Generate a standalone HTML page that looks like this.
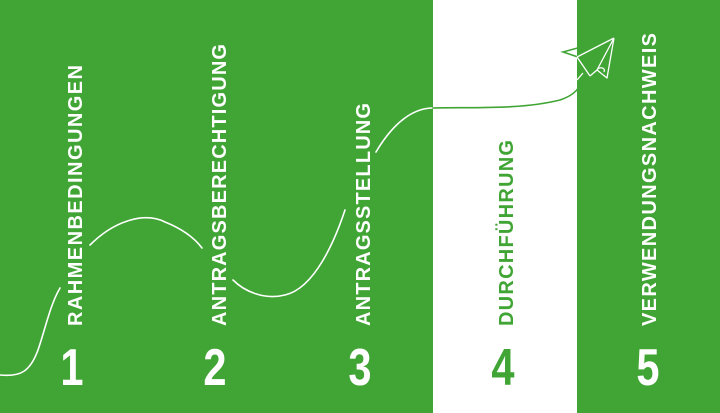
<!DOCTYPE html>
<html><head><meta charset="utf-8"><style>
html,body{margin:0;padding:0;background:#40a535;}
svg{display:block}
</style></head><body>
<svg width="720" height="413" viewBox="0 0 720 413" xmlns="http://www.w3.org/2000/svg">
<rect width="720" height="413" fill="#40a535"/>
<rect x="433" y="0" width="144" height="413" fill="#fff"/>
<g font-family="Liberation Sans, sans-serif" font-weight="bold" font-size="20" fill="#fff">
<text transform="translate(82,326) rotate(-90)" textLength="261" lengthAdjust="spacing">RAHMENBEDINGUNGEN</text>
<text transform="translate(226,326) rotate(-90)" textLength="282" lengthAdjust="spacing">ANTRAGSBERECHTIGUNG</text>
<text transform="translate(370,326) rotate(-90)" textLength="223" lengthAdjust="spacing">ANTRAGSSTELLUNG</text>
<text transform="translate(513,326) rotate(-90)" textLength="186" lengthAdjust="spacing" fill="#40a535">DURCHFÜHRUNG</text>
<text transform="translate(656,326) rotate(-90)" textLength="293" lengthAdjust="spacing">VERWENDUNGSNACHWEIS</text>
</g>
<g font-family="Liberation Sans, sans-serif" font-weight="bold" font-size="52" fill="#fff" text-anchor="middle">
<text transform="translate(72,385) scale(0.8,1)">1</text>
<text transform="translate(215,385) scale(0.8,1)">2</text>
<text transform="translate(360,385) scale(0.8,1)">3</text>
<text transform="translate(503,385) scale(0.8,1)" fill="#40a535">4</text>
<text transform="translate(648,385) scale(0.8,1)">5</text>
</g>
<g fill="none" stroke="#fff" stroke-width="1.6" stroke-linecap="round">
<path d="M0,375 C20,377 30,372 38,350 C45,330 50,305 60,288"/>
<path d="M90,245 C115,220 145,212 165,222 C185,230 196,240 202,248"/>
<path d="M233,280 C245,292 265,300 285,295 C315,288 335,240 345,210"/>
<path d="M376,152 C395,120 415,108 433,108"/>
</g>
<g fill="none" stroke="#40a535" stroke-width="1.6" stroke-linecap="round">
<path d="M433,108 C470,107 520,110 560,100 C575,95 580,88 583,78"/>
<path d="M563,52 L614,38 L578,57 Z"/>
</g>
<g fill="none" stroke="#fff" stroke-width="1.3" stroke-linejoin="round">
<path d="M577,80 L583,73"/>
<path d="M577,57 L590,76 M614,38 L607,78 L597,70 L590,76 M614,38 L597,70 M614,38 L577,57"/>
<path d="M597,70 C600,66 606,68 604,72"/>
</g>
</svg>
</body></html>
